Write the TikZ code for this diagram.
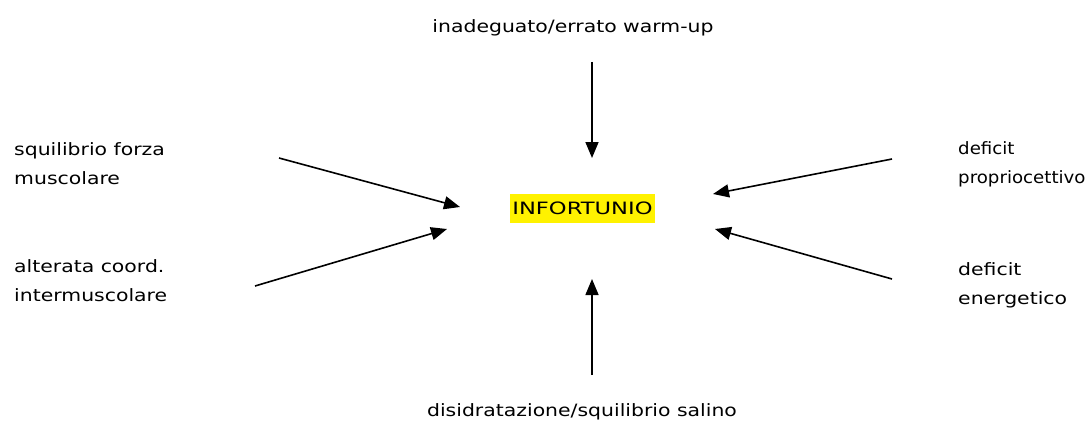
\documentclass[tikz,border=0pt]{standalone}
\usepackage{fontspec}
\setmainfont{DejaVu Sans}[FakeStretch=1.2]
\newfontfamily\narrowfont{DejaVu Sans}[FakeStretch=1.07]
\newfontfamily\widefont{DejaVu Sans}[FakeStretch=1.33]
\usetikzlibrary{arrows.meta}

\begin{document}
\begin{tikzpicture}
[%%%%%%%%%%%%%%%%%%%%%%%%%%%%%%
x=1pt,y=-1pt,
cause/.style={inner sep=0pt, align=left, font=\fontsize{17}{29}\selectfont, anchor=base west},
title/.style={inner sep=0pt, font=\fontsize{17}{29}\selectfont, anchor=base},
hit/.style={-{Triangle[length=16pt,width=13pt]}, line width=1.6pt},
]%%%%%%%%%%%%%%%%%%%%%%%%%%%%%%
\useasboundingbox (0,0) rectangle (1089,428);

\node[fill=yellow, inner sep=0pt, minimum width=145pt, minimum height=29pt,
      font=\fontsize{17}{29}\widefont] (infortunio) at (582.5,208.5) {INFORTUNIO};

\node[title] (warmup) at (573,33) {inadeguato/errato warm-up};
\node[title] (disidrat) at (582,416) {disidratazione/squilibrio salino};
% base anchor sits on the last line
\node[cause] (forza) at (14,184) {squilibrio forza\\muscolare};
\node[cause] (coord) at (14,301) {alterata coord.\\intermuscolare};
\node[cause, font=\fontsize{17}{29}\narrowfont] (proprio) at (958,183) {deficit\\propriocettivo};
\node[cause] (energia) at (958,304) {deficit\\energetico};

\coordinate (warmup-s) at (592,62);
\coordinate (warmup-e) at (592,158);
\coordinate (disidrat-s) at (592,375);
\coordinate (disidrat-e) at (592,279);
\coordinate (forza-s) at (279,158);
\coordinate (forza-e) at (460,207);
\coordinate (coord-s) at (255,286);
\coordinate (coord-e) at (447,229);
\coordinate (proprio-s) at (892,159);
\coordinate (proprio-e) at (713,194);
\coordinate (energia-s) at (892,279);
\coordinate (energia-e) at (715,229);

\foreach \c in {warmup,disidrat,forza,coord,proprio,energia}
\draw[hit] (\c-s) -- (\c-e);
\end{tikzpicture}
\end{document}
